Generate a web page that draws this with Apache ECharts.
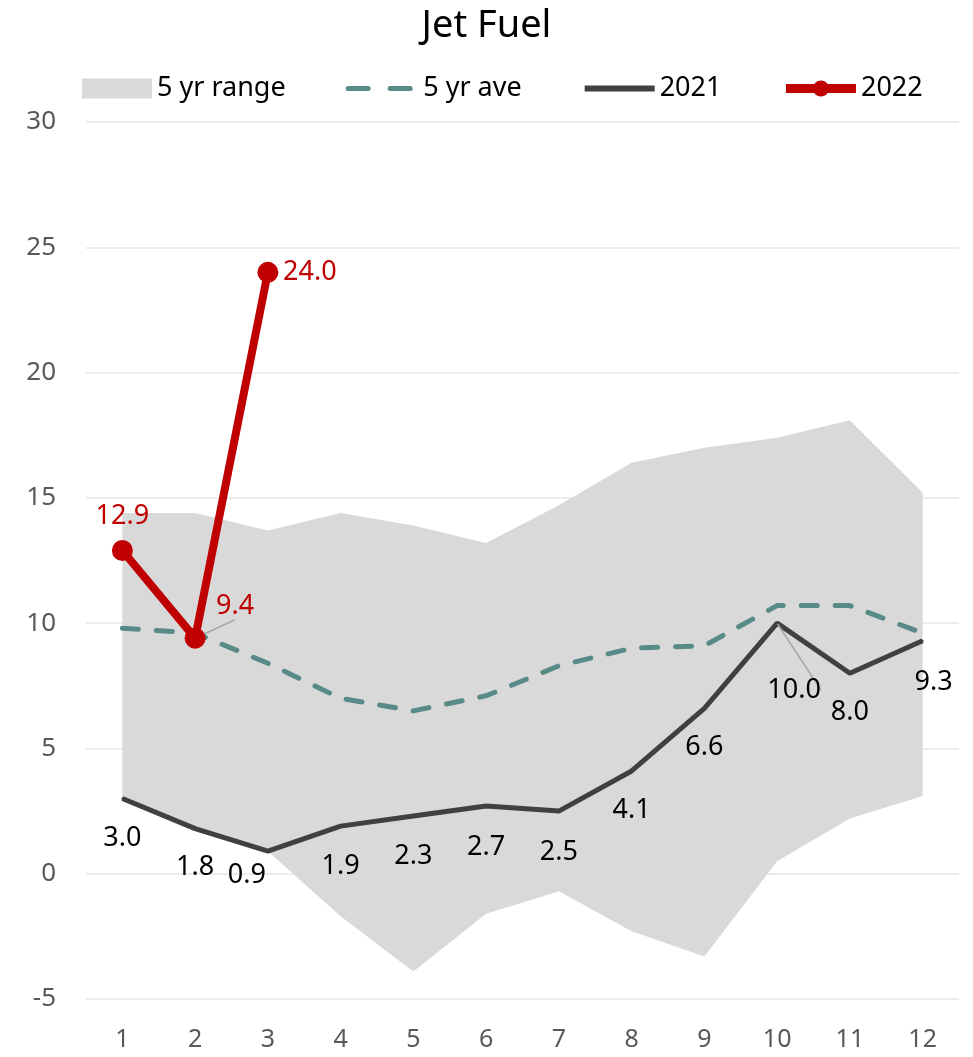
<!DOCTYPE html>
<html>
<head>
<meta charset="utf-8">
<script src="https://cdn.jsdelivr.net/npm/echarts@6/dist/echarts.min.js"></script>
<style>
  html, body { margin: 0; padding: 0; background: #fff; }
  #chart { width: 973px; height: 1057px; }
</style>
</head>
<body>
<div id="chart"></div>
<script>
// 数据
const months = ['1', '2', '3', '4', '5', '6', '7', '8', '9', '10', '11', '12'];
const rangeLow = [3.0, 1.8, 0.9, -1.7, -3.9, -1.6, -0.7, -2.3, -3.3, 0.5, 2.2, 3.1];
const rangeHigh = [14.4, 14.4, 13.7, 14.4, 13.9, 13.2, 14.7, 16.4, 17.0, 17.4, 18.1, 15.2];
const aveValues = [9.8, 9.6, 8.4, 7.0, 6.5, 7.1, 8.3, 9.0, 9.1, 10.7, 10.7, 9.6];
const values2021 = [3.0, 1.8, 0.9, 1.9, 2.3, 2.7, 2.5, 4.1, 6.6, 10.0, 8.0, 9.3];
const values2022 = [12.9, 9.4, 24.0];

const font = 'Noto Sans';

// label 偏移 (相对于点的中心)
const offsets2021 = [[0, 40], [0, 39], [-21, 24], [0, 40], [0, 40], [0, 41], [0, 41], [0, 39], [0, 39], [17, 67], [0, 39], [11, 42]];
const offsets2022 = [[0, -34], [40, -32], [42, 0]];
const guide2021 = [9];
const guide2022 = [1];

function withLabels(values, offsets, guides) {
    return values.map((v, i) => ({
        value: v,
        label: { offset: offsets[i] },
        labelLine: guides.indexOf(i) > -1 ? { show: true, lineStyle: { color: '#a6a6a6', width: 1.5 } } : { show: false }
    }));
}

const chart = echarts.init(document.getElementById('chart'));
chart.setOption({
    animation: false,
    title: {
        text: 'Jet Fuel',
        left: 'center',
        top: 2,
        textStyle: { fontFamily: font, fontSize: 38, fontWeight: 'normal', color: '#000' }
    },
    legend: {
        top: 70,
        left: 77,
        itemWidth: 70,
        itemHeight: 20,
        itemGap: 60,
        textStyle: { fontFamily: font, fontSize: 27, color: '#000' },
        data: [
            { name: '5 yr range', icon: 'rect' },
            { name: '5 yr ave', itemStyle: { opacity: 0 }, lineStyle: { width: 5, type: [20, 22], cap: 'round' } },
            { name: '2021', itemStyle: { opacity: 0 }, lineStyle: { width: 6 } },
            { name: '2022', lineStyle: { width: 9 } }
        ]
    },
    grid: { left: 86, right: 14, top: 122, bottom: 58 },
    xAxis: {
        type: 'category',
        data: months,
        axisLine: { show: false },
        axisTick: { show: false },
        axisLabel: { fontFamily: font, fontSize: 25, color: '#595959', margin: 28 }
    },
    yAxis: {
        type: 'value',
        min: -5,
        max: 30,
        interval: 5,
        axisLine: { show: false },
        axisTick: { show: false },
        axisLabel: { fontFamily: font, fontSize: 26, color: '#595959', margin: 30 },
        splitLine: { lineStyle: { color: '#ececec', width: 2 } }
    },
    series: [
        {
            name: 'lower',
            type: 'line',
            stack: 'band',
            stackStrategy: 'all',
            data: rangeLow,
            symbol: 'none',
            lineStyle: { opacity: 0 },
            silent: true
        },
        {
            name: '5 yr range',
            type: 'line',
            stack: 'band',
            stackStrategy: 'all',
            data: rangeHigh.map((h, i) => +(h - rangeLow[i]).toFixed(2)),
            symbol: 'none',
            itemStyle: { color: '#d9d9d9' },
            lineStyle: { opacity: 0 },
            areaStyle: { color: '#d9d9d9', opacity: 1 },
            silent: true
        },
        {
            name: '5 yr ave',
            type: 'line',
            data: aveValues,
            symbol: 'none',
            itemStyle: { color: '#588a87' },
            lineStyle: { color: '#588a87', width: 5, type: [16, 18], cap: 'round' },
            z: 3
        },
        {
            name: '2021',
            type: 'line',
            data: withLabels(values2021, offsets2021, guide2021),
            symbol: 'circle',
            symbolSize: 2,
            itemStyle: { color: '#404040' },
            lineStyle: { color: '#404040', width: 5 },
            label: {
                show: true,
                position: 'inside',
                fontFamily: font,
                fontSize: 27,
                color: '#000',
                formatter: p => p.value.toFixed(1)
            },
            z: 4
        },
        {
            name: '2022',
            type: 'line',
            data: withLabels(values2022, offsets2022, guide2022),
            symbol: 'circle',
            symbolSize: 21,
            itemStyle: { color: '#c00000' },
            lineStyle: { color: '#c00000', width: 8 },
            label: {
                show: true,
                position: 'inside',
                fontFamily: font,
                fontSize: 27,
                color: '#c00000',
                formatter: p => p.value.toFixed(1)
            },
            z: 5
        }
    ]
});
</script>
</body>
</html>
